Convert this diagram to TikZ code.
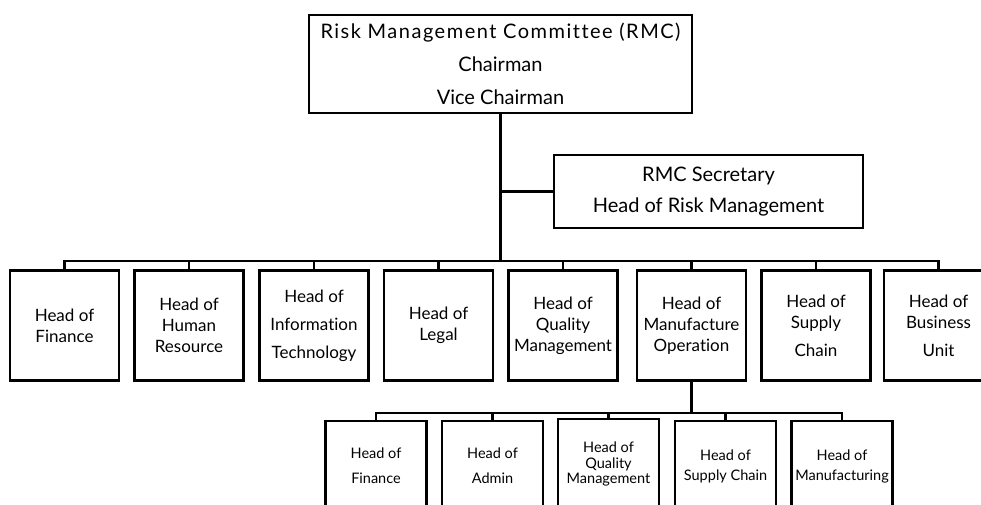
\documentclass[tikz,border=0pt]{standalone}
\usepackage{fontspec}
\setmainfont{Lato}[Ligatures=NoCommon]
\begin{document}
\begin{tikzpicture}[x=1pt,y=-1pt,
  box/.style={draw,line width=2.2pt,rectangle,inner sep=0pt,align=center},
  headbox/.style={box,font=\fontsize{20}{33}\selectfont},
  unitbox/.style={box,minimum width=109,minimum height=110,font=\fontsize{17}{21}\selectfont},
  subbox/.style={box,minimum width=101,minimum height=90,font=\fontsize{14.5}{20}\selectfont},
  link/.style={line width=2.2pt}]
\useasboundingbox (0,0) rectangle (981,504);

% committee and secretary
\node[headbox,minimum width=383,minimum height=98] (rmc) at (500.5,64)
  {{\addfontfeature{LetterSpace=7.5}Risk Management Committee (RMC)}\\Chairman\\Vice Chairman};
\node[headbox,minimum width=309,minimum height=73,font=\fontsize{20}{31}\selectfont] (sec) at (708.5,191.5)
  {RMC Secretary\\Head of Risk Management};

% first level units
\node[unitbox] (h1) at (64.5,325.5) {Head of\\Finance};
\node[unitbox] (h2) at (189,325.5) {Head of\\Human\\Resource};
\node[unitbox] (h3) at (314,325.5) {Head of\\[7pt]Information\\[7pt]Technology};
\node[unitbox] (h4) at (438.5,325.5) {Head of\\Legal};
\node[unitbox] (h5) at (563,325.5) {Head of\\Quality\\Management};
\node[unitbox] (h6) at (691.5,325.5) {Head of\\Manufacture\\Operation};
\node[unitbox] (h7) at (816,325.5) {Head of\\Supply\\[7pt]Chain};
\node[unitbox] (h8) at (938.5,325.5) {Head of\\Business\\[7pt]Unit};

% units under manufacture operation
\node[subbox] (s1) at (376,466) {Head of\\[5pt]Finance};
\node[subbox] (s2) at (492.5,466) {Head of\\[5pt]Admin};
\node[subbox,font=\fontsize{14.5}{15.5}\selectfont] (s3) at (608.5,464) {Head of\\Quality\\Management};
\node[subbox] (s4) at (725.5,466) {Head of\\Supply Chain};
\node[subbox] (s5) at (842,466) {Head of\\Manufacturing};

% bus lines
\coordinate (bus) at (0,261);
\coordinate (subbus) at (0,413);

\draw[link] (rmc.south) -- (rmc.south |- bus);
\draw[link] (sec.west) -- (sec.west -| rmc.south);
\draw[link] (h1.north) -- (h1.north |- bus) -| (h8.north);
\foreach \i in {2,...,7} \draw[link] (h\i.north) -- (h\i.north |- bus);

\draw[link] (h6.south) -- (h6.south |- subbus);
\draw[link] (s1.north) -- (s1.north |- subbus) -| (s5.north);
\foreach \i in {2,3,4} \draw[link] (s\i.north) -- (s\i.north |- subbus);
\end{tikzpicture}
\end{document}
